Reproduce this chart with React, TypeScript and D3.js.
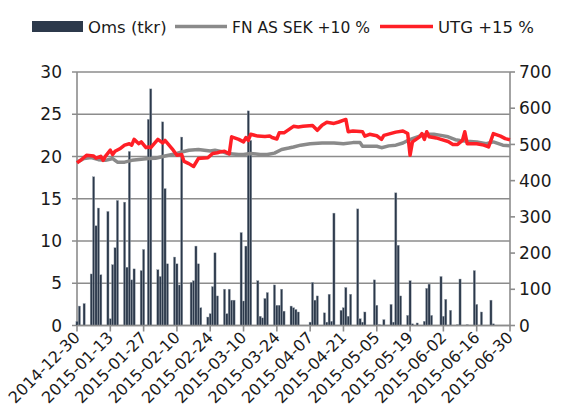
import * as d3 from 'd3';
import React from 'react';

const W = 561;
const H = 417;
const margin = { top: 72, right: 51, bottom: 92, left: 77 };

// tick dates for the x axis (every 14 days)
const xTicks = [
  '2014-12-30', '2015-01-13', '2015-01-27', '2015-02-10', '2015-02-24', '2015-03-10', '2015-03-24',
  '2015-04-07', '2015-04-21', '2015-05-05', '2015-05-19', '2015-06-02', '2015-06-16', '2015-06-30',
];
const leftTicks = [0, 5, 10, 15, 20, 25, 30];
const rightTicks = [0, 100, 200, 300, 400, 500, 600, 700];

// Oms (tkr) - daily turnover
const omsDates = [
  '2014-12-30', '2014-12-31', '2015-01-02', '2015-01-05', '2015-01-06', '2015-01-07', '2015-01-08', '2015-01-09',
  '2015-01-12', '2015-01-13', '2015-01-14', '2015-01-15', '2015-01-16', '2015-01-19', '2015-01-20', '2015-01-21',
  '2015-01-22', '2015-01-23', '2015-01-26', '2015-01-27', '2015-01-29', '2015-01-30', '2015-02-02', '2015-02-03',
  '2015-02-04', '2015-02-05', '2015-02-06', '2015-02-09', '2015-02-10', '2015-02-11', '2015-02-12', '2015-02-16',
  '2015-02-17', '2015-02-18', '2015-02-19', '2015-02-20', '2015-02-23', '2015-02-24', '2015-02-25', '2015-02-26',
  '2015-02-27', '2015-03-02', '2015-03-03', '2015-03-04', '2015-03-05', '2015-03-06', '2015-03-09', '2015-03-10',
  '2015-03-11', '2015-03-12', '2015-03-13', '2015-03-16', '2015-03-17', '2015-03-18', '2015-03-19', '2015-03-20',
  '2015-03-23', '2015-03-24', '2015-03-25', '2015-03-26', '2015-03-27', '2015-03-30', '2015-03-31', '2015-04-01',
  '2015-04-02', '2015-04-07', '2015-04-08', '2015-04-09', '2015-04-10', '2015-04-13', '2015-04-14', '2015-04-15',
  '2015-04-16', '2015-04-17', '2015-04-20', '2015-04-21', '2015-04-22', '2015-04-23', '2015-04-24', '2015-04-27',
  '2015-04-28', '2015-04-29', '2015-04-30', '2015-05-04', '2015-05-05', '2015-05-06', '2015-05-08', '2015-05-11',
  '2015-05-12', '2015-05-13', '2015-05-14', '2015-05-15', '2015-05-18', '2015-05-19', '2015-05-20', '2015-05-22',
  '2015-05-25', '2015-05-26', '2015-05-27', '2015-05-28', '2015-06-01', '2015-06-02', '2015-06-03', '2015-06-05',
  '2015-06-08', '2015-06-09', '2015-06-12', '2015-06-15', '2015-06-16', '2015-06-18', '2015-06-22', '2015-06-23',
];
const omsValues = [
  0.5, 2.3, 2.6, 6.1, 17.6, 11.8, 13.9, 6.0,
  13.5, 0.8, 7.2, 9.2, 14.8, 14.6, 6.9, 20.6,
  5.4, 6.7, 6.5, 9.0, 24.4, 28.0, 6.6, 5.8,
  24.1, 16.2, 7.3, 8.1, 7.3, 4.8, 22.3, 5.1,
  5.3, 9.4, 7.3, 2.1, 1.0, 1.4, 4.6, 8.6,
  3.5, 4.3, 1.4, 4.3, 3.0, 3.0, 11.0, 2.9,
  9.4, 25.4, 21.9, 5.3, 1.1, 0.9, 3.2, 3.9,
  4.8, 2.4, 2.4, 4.3, 1.7, 2.3, 2.1, 1.9,
  1.6, 0.4, 5.1, 3.0, 3.5, 1.5, 0.4, 3.7,
  0.5, 13.3, 1.8, 2.1, 4.5, 1.1, 3.7, 13.8,
  0.8, 0.4, 1.6, 5.4, 2.4, 0.1, 0.7, 2.5,
  0.4, 15.7, 9.5, 3.5, 1.2, 5.3, 0.2, 0.3,
  0.5, 4.4, 4.9, 1.2, 5.8, 1.1, 3.1, 1.8,
  0.1, 5.5, 0.1, 6.5, 2.5, 1.6, 3.0, 0.2,
];

// FN AS SEK +10 %
const fnDates = [
  '2014-12-30', '2015-01-02', '2015-01-05', '2015-01-08', '2015-01-11', '2015-01-14', '2015-01-16', '2015-01-19',
  '2015-01-22', '2015-01-26', '2015-01-29', '2015-02-01', '2015-02-05', '2015-02-10', '2015-02-12', '2015-02-15',
  '2015-02-19', '2015-02-24', '2015-02-26', '2015-03-01', '2015-03-03', '2015-03-08', '2015-03-10', '2015-03-13',
  '2015-03-17', '2015-03-20', '2015-03-23', '2015-03-26', '2015-03-29', '2015-03-31', '2015-04-03', '2015-04-07',
  '2015-04-12', '2015-04-17', '2015-04-21', '2015-04-25', '2015-04-28', '2015-04-29', '2015-05-02', '2015-05-05',
  '2015-05-07', '2015-05-10', '2015-05-13', '2015-05-16', '2015-05-18', '2015-05-20', '2015-05-23', '2015-05-26',
  '2015-05-29', '2015-06-01', '2015-06-04', '2015-06-07', '2015-06-09', '2015-06-12', '2015-06-16', '2015-06-20',
  '2015-06-23', '2015-06-27', '2015-06-30',
];
const fnValues = [
  451, 461, 464, 458, 456, 461, 451, 451,
  456, 459, 461, 462, 468, 475, 479, 484,
  486, 482, 484, 480, 475, 472, 472, 475,
  472, 472, 476, 486, 490, 493, 498, 502,
  504, 504, 502, 505, 505, 495, 495, 495,
  491, 496, 498, 504, 511, 516, 523, 528,
  528, 525, 521, 513, 511, 509, 507, 502,
  507, 498, 496,
];

// UTG +15 %
const utgDates = [
  '2014-12-30', '2015-01-01', '2015-01-03', '2015-01-06', '2015-01-07', '2015-01-09', '2015-01-10', '2015-01-11',
  '2015-01-13', '2015-01-14', '2015-01-15', '2015-01-17', '2015-01-19', '2015-01-21', '2015-01-22', '2015-01-23',
  '2015-01-25', '2015-01-26', '2015-01-28', '2015-01-29', '2015-01-30', '2015-02-02', '2015-02-04', '2015-02-05',
  '2015-02-08', '2015-02-10', '2015-02-12', '2015-02-13', '2015-02-15', '2015-02-17', '2015-02-19', '2015-02-20',
  '2015-02-23', '2015-02-25', '2015-02-27', '2015-02-28', '2015-03-02', '2015-03-04', '2015-03-05', '2015-03-08',
  '2015-03-10', '2015-03-11', '2015-03-12', '2015-03-13', '2015-03-16', '2015-03-19', '2015-03-21', '2015-03-22',
  '2015-03-24', '2015-03-25', '2015-03-27', '2015-03-29', '2015-03-31', '2015-04-02', '2015-04-04', '2015-04-08',
  '2015-04-10', '2015-04-12', '2015-04-14', '2015-04-17', '2015-04-19', '2015-04-22', '2015-04-23', '2015-04-25',
  '2015-04-28', '2015-04-29', '2015-04-30', '2015-05-02', '2015-05-05', '2015-05-07', '2015-05-08', '2015-05-13',
  '2015-05-16', '2015-05-18', '2015-05-19', '2015-05-20', '2015-05-23', '2015-05-24', '2015-05-25', '2015-05-26',
  '2015-05-27', '2015-05-30', '2015-06-01', '2015-06-04', '2015-06-06', '2015-06-08', '2015-06-10', '2015-06-11',
  '2015-06-12', '2015-06-16', '2015-06-19', '2015-06-21', '2015-06-23', '2015-06-26', '2015-06-28', '2015-06-30',
];
const utgValues = [
  449, 459, 470, 468, 462, 467, 456, 468,
  484, 472, 481, 488, 498, 502, 498, 514,
  502, 507, 491, 493, 491, 514, 504, 511,
  488, 470, 472, 453, 447, 439, 461, 462,
  463, 475, 477, 479, 481, 474, 521, 514,
  507, 519, 511, 528, 523, 522, 523, 519,
  515, 532, 532, 541, 550, 548, 550, 552,
  539, 553, 561, 558, 562, 569, 535, 537,
  536, 535, 523, 528, 524, 514, 525, 534,
  537, 530, 470, 507, 521, 530, 514, 535,
  521, 518, 514, 508, 500, 500, 511, 535,
  502, 502, 498, 493, 530, 523, 516, 513,
];

const parse = d3.timeParse('%Y-%m-%d');
const font = '"DejaVu Sans", sans-serif';
const gridColor = '#8c8c8c';
const barColor = '#2c394b';
const fnColor = '#8a8a8a';
const utgColor = '#ff1f26';
const textColor = '#1a1a1a';

export default function App() {
  const x = d3
    .scaleTime()
    .domain([parse(xTicks[0])!, parse(xTicks[xTicks.length - 1])!])
    .range([margin.left, W - margin.right]);
  const yL = d3.scaleLinear().domain([0, 30]).range([H - margin.bottom + 0.5, margin.top]);
  const yR = d3.scaleLinear().domain([0, 700]).range([H - margin.bottom + 0.5, margin.top]);

  const lineGen = d3
    .line<[Date, number]>()
    .x((d) => x(d[0]))
    .y((d) => yR(d[1]));

  const fnData: [Date, number][] = fnDates.map((d, i) => [parse(d)!, fnValues[i]]);
  const utgData: [Date, number][] = utgDates.map((d, i) => [parse(d)!, utgValues[i]]);

  const x0 = margin.left;
  const x1 = W - margin.right;
  const y0 = yL(0);

  return (
    <svg width={W} height={H} style={{ position: 'absolute', left: 0, top: 0, background: '#fff' }} fontFamily={font}>
      {/* grid + left axis */}
      {leftTicks.map((t) => (
        <g key={'l' + t}>
          <line x1={x0 - 5} x2={x1} y1={yL(t)} y2={yL(t)} stroke={gridColor} strokeWidth={1.6} />
          <text x={62} y={yL(t)} dy="0.36em" textAnchor="end" fontSize={17} fill={textColor}>
            {t}
          </text>
        </g>
      ))}
      {/* right axis */}
      {rightTicks.map((t) => (
        <g key={'r' + t}>
          <line x1={x1} x2={x1 + 5} y1={yR(t)} y2={yR(t)} stroke={gridColor} strokeWidth={1.6} />
          <text x={519} y={yR(t)} dy="0.36em" textAnchor="start" fontSize={17} fill={textColor}>
            {t}
          </text>
        </g>
      ))}
      <line x1={x0} x2={x0} y1={margin.top} y2={y0} stroke={gridColor} strokeWidth={1.6} />
      <line x1={x1} x2={x1} y1={margin.top} y2={y0} stroke={gridColor} strokeWidth={1.6} />

      {/* bars */}
      {omsDates.map((d, i) => {
        const cx = x(parse(d)!);
        return (
          <rect
            key={d}
            x={cx - 1.1}
            width={2.2}
            y={yL(omsValues[i])}
            height={y0 - yL(omsValues[i])}
            fill={barColor}
            stroke="#9aa3ad"
            strokeWidth={0.4}
          />
        );
      })}

      {/* x axis */}
      <line x1={x0} x2={x1} y1={y0} y2={y0} stroke={gridColor} strokeWidth={1.6} />
      {xTicks.map((t) => {
        const tx = x(parse(t)!);
        return (
          <g key={t}>
            <line x1={tx} x2={tx} y1={y0} y2={y0 + 6} stroke={gridColor} strokeWidth={1.6} />
            <text
              transform={`translate(${tx + 4},${y0 + 13}) rotate(-45)`}
              textAnchor="end"
              fontSize={16}
              fill={textColor}
            >
              {t}
            </text>
          </g>
        );
      })}

      {/* lines */}
      <path d={lineGen(fnData)!} fill="none" stroke={fnColor} strokeWidth={3.5} strokeLinejoin="round" />
      <path d={lineGen(utgData)!} fill="none" stroke={utgColor} strokeWidth={3.5} strokeLinejoin="round" />

      {/* legend */}
      <rect x={32} y={21} width={51} height={11} fill={barColor} />
      <text x={88} y={33} fontSize={16.5} fill={textColor}>Oms (tkr)</text>
      <line x1={175} x2={227} y1={26.5} y2={26.5} stroke={fnColor} strokeWidth={3.5} />
      <text x={232} y={33} fontSize={16} fill={textColor} textLength={138} lengthAdjust="spacingAndGlyphs">
        FN AS SEK +10 %
      </text>
      <line x1={380} x2={433} y1={26.5} y2={26.5} stroke={utgColor} strokeWidth={3.5} />
      <text x={438} y={33} fontSize={16.5} fill={textColor}>UTG +15 %</text>
    </svg>
  );
}
